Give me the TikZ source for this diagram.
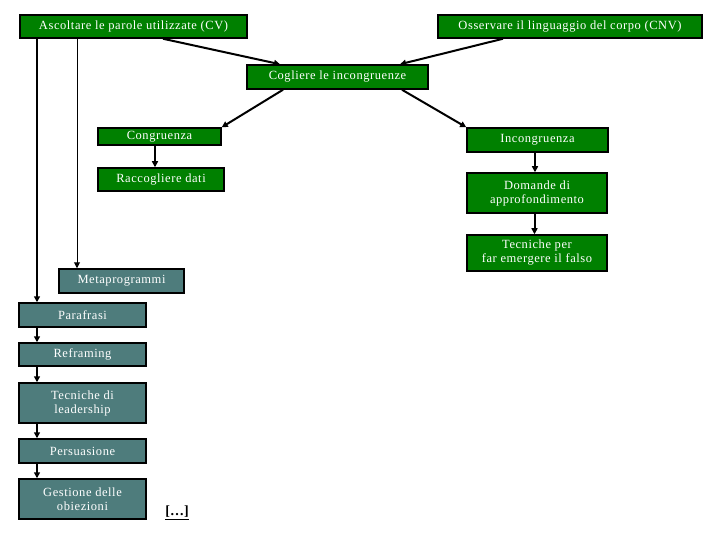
\documentclass[tikz,border=0pt]{standalone}
\usepackage{fontspec}
\setmainfont{Liberation Serif}
\newfontfamily\spacedfont[LetterSpace=4.5]{Liberation Serif}
\usetikzlibrary{arrows.meta}

\definecolor{boxgreen}{RGB}{0,128,0}
\definecolor{boxteal}{RGB}{78,124,124}

\begin{document}
\begin{tikzpicture}[x=1pt,y=-1pt,
    box/.style={draw=black, line width=1.5pt, text=white, inner sep=0pt, align=center, font=\spacedfont\fontsize{12.5}{14}\selectfont},
    gbox/.style={box, fill=boxgreen},
    tbox/.style={box, fill=boxteal},
    arr/.style={line width=2pt, -{Triangle[length=6pt,width=6pt]}},
    thinarr/.style={line width=1pt, -{Triangle[length=6pt,width=6pt]}}]
      \useasboundingbox (0,0) rectangle (720,540);
      % top row
      \node[gbox, minimum width=227pt, minimum height=23pt] (ascolto) at (133.5,26.5) {Ascoltare le parole utilizzate (CV)};
      \node[gbox, minimum width=264pt, minimum height=23pt] (osserva) at (570,26.5) {Osservare il linguaggio del corpo (CNV)};
      \node[gbox, minimum width=181pt, minimum height=24pt] (cogliere) at (337.5,77) {Cogliere le incongruenze};
      % left branch
      \node[gbox, minimum width=123pt, minimum height=17pt] (congr) at (159.5,136.5) {Congruenza};
      \node[gbox, minimum width=126pt, minimum height=23pt] (raccolta) at (161,179.5) {Raccogliere dati};
      % right branch
      \node[gbox, minimum width=141pt, minimum height=24pt] (incongr) at (537.5,140) {Incongruenza};
      \node[gbox, minimum width=140pt, minimum height=40pt] (domande) at (537,193) {Domande di\\approfondimento};
      \node[gbox, minimum width=140pt, minimum height=36pt] (falso) at (537,253) {Tecniche per\\far emergere il falso};
      % left column
      \node[tbox, minimum width=125pt, minimum height=24pt] (meta) at (121.5,281) {Metaprogrammi};
      \node[tbox, minimum width=127pt, minimum height=24pt] (parafrasi) at (82.5,315) {Parafrasi};
      \node[tbox, minimum width=127pt, minimum height=23pt] (reframe) at (82.5,354.5) {Reframing};
      \node[tbox, minimum width=127pt, minimum height=40pt] (leader) at (82.5,403) {Tecniche di\\leadership};
      \node[tbox, minimum width=127pt, minimum height=24pt] (persuasione) at (82.5,451) {Persuasione};
      \node[tbox, minimum width=127pt, minimum height=40pt] (obiezioni) at (82.5,499) {Gestione delle\\obiezioni};
      \node[inner sep=0pt, font=\fontsize{14}{16}\selectfont\bfseries] (altro) at (177,513) {\underline{[…]}};

      \draw[arr] ([xshift=29.5pt]ascolto.south) -- ([xshift=-57.5pt]cogliere.north);
      \draw[arr] ([xshift=-67pt]osserva.south) -- ([xshift=62.5pt]cogliere.north);
      \draw[arr] ([xshift=-54.5pt]cogliere.south) -- (congr.north east);
      \draw[arr] ([xshift=64.5pt]cogliere.south) -- (incongr.north west);
      \draw[arr] ([xshift=-4.5pt]congr.south) -- ([xshift=-4.5pt]congr.south |- raccolta.north);
      \draw[arr] ([xshift=-2.5pt]incongr.south) -- ([xshift=-2.5pt]incongr.south |- domande.north);
      \draw[arr] ([xshift=-2.5pt]domande.south) -- ([xshift=-2.5pt]domande.south |- falso.north);
      \draw[arr] ([xshift=-96.5pt]ascolto.south) -- ([xshift=-96.5pt]ascolto.south |- parafrasi.north);
      \draw[thinarr] ([xshift=-56.5pt]ascolto.south) -- ([xshift=-56.5pt]ascolto.south |- meta.north);
      \draw[arr] ([xshift=-45.5pt]parafrasi.south) -- ([xshift=-45.5pt]parafrasi.south |- reframe.north);
      \draw[arr] ([xshift=-45.5pt]reframe.south) -- ([xshift=-45.5pt]reframe.south |- leader.north);
      \draw[arr] ([xshift=-45.5pt]leader.south) -- ([xshift=-45.5pt]leader.south |- persuasione.north);
      \draw[arr] ([xshift=-45.5pt]persuasione.south) -- ([xshift=-45.5pt]persuasione.south |- obiezioni.north);
    \end{tikzpicture}
\end{document}
